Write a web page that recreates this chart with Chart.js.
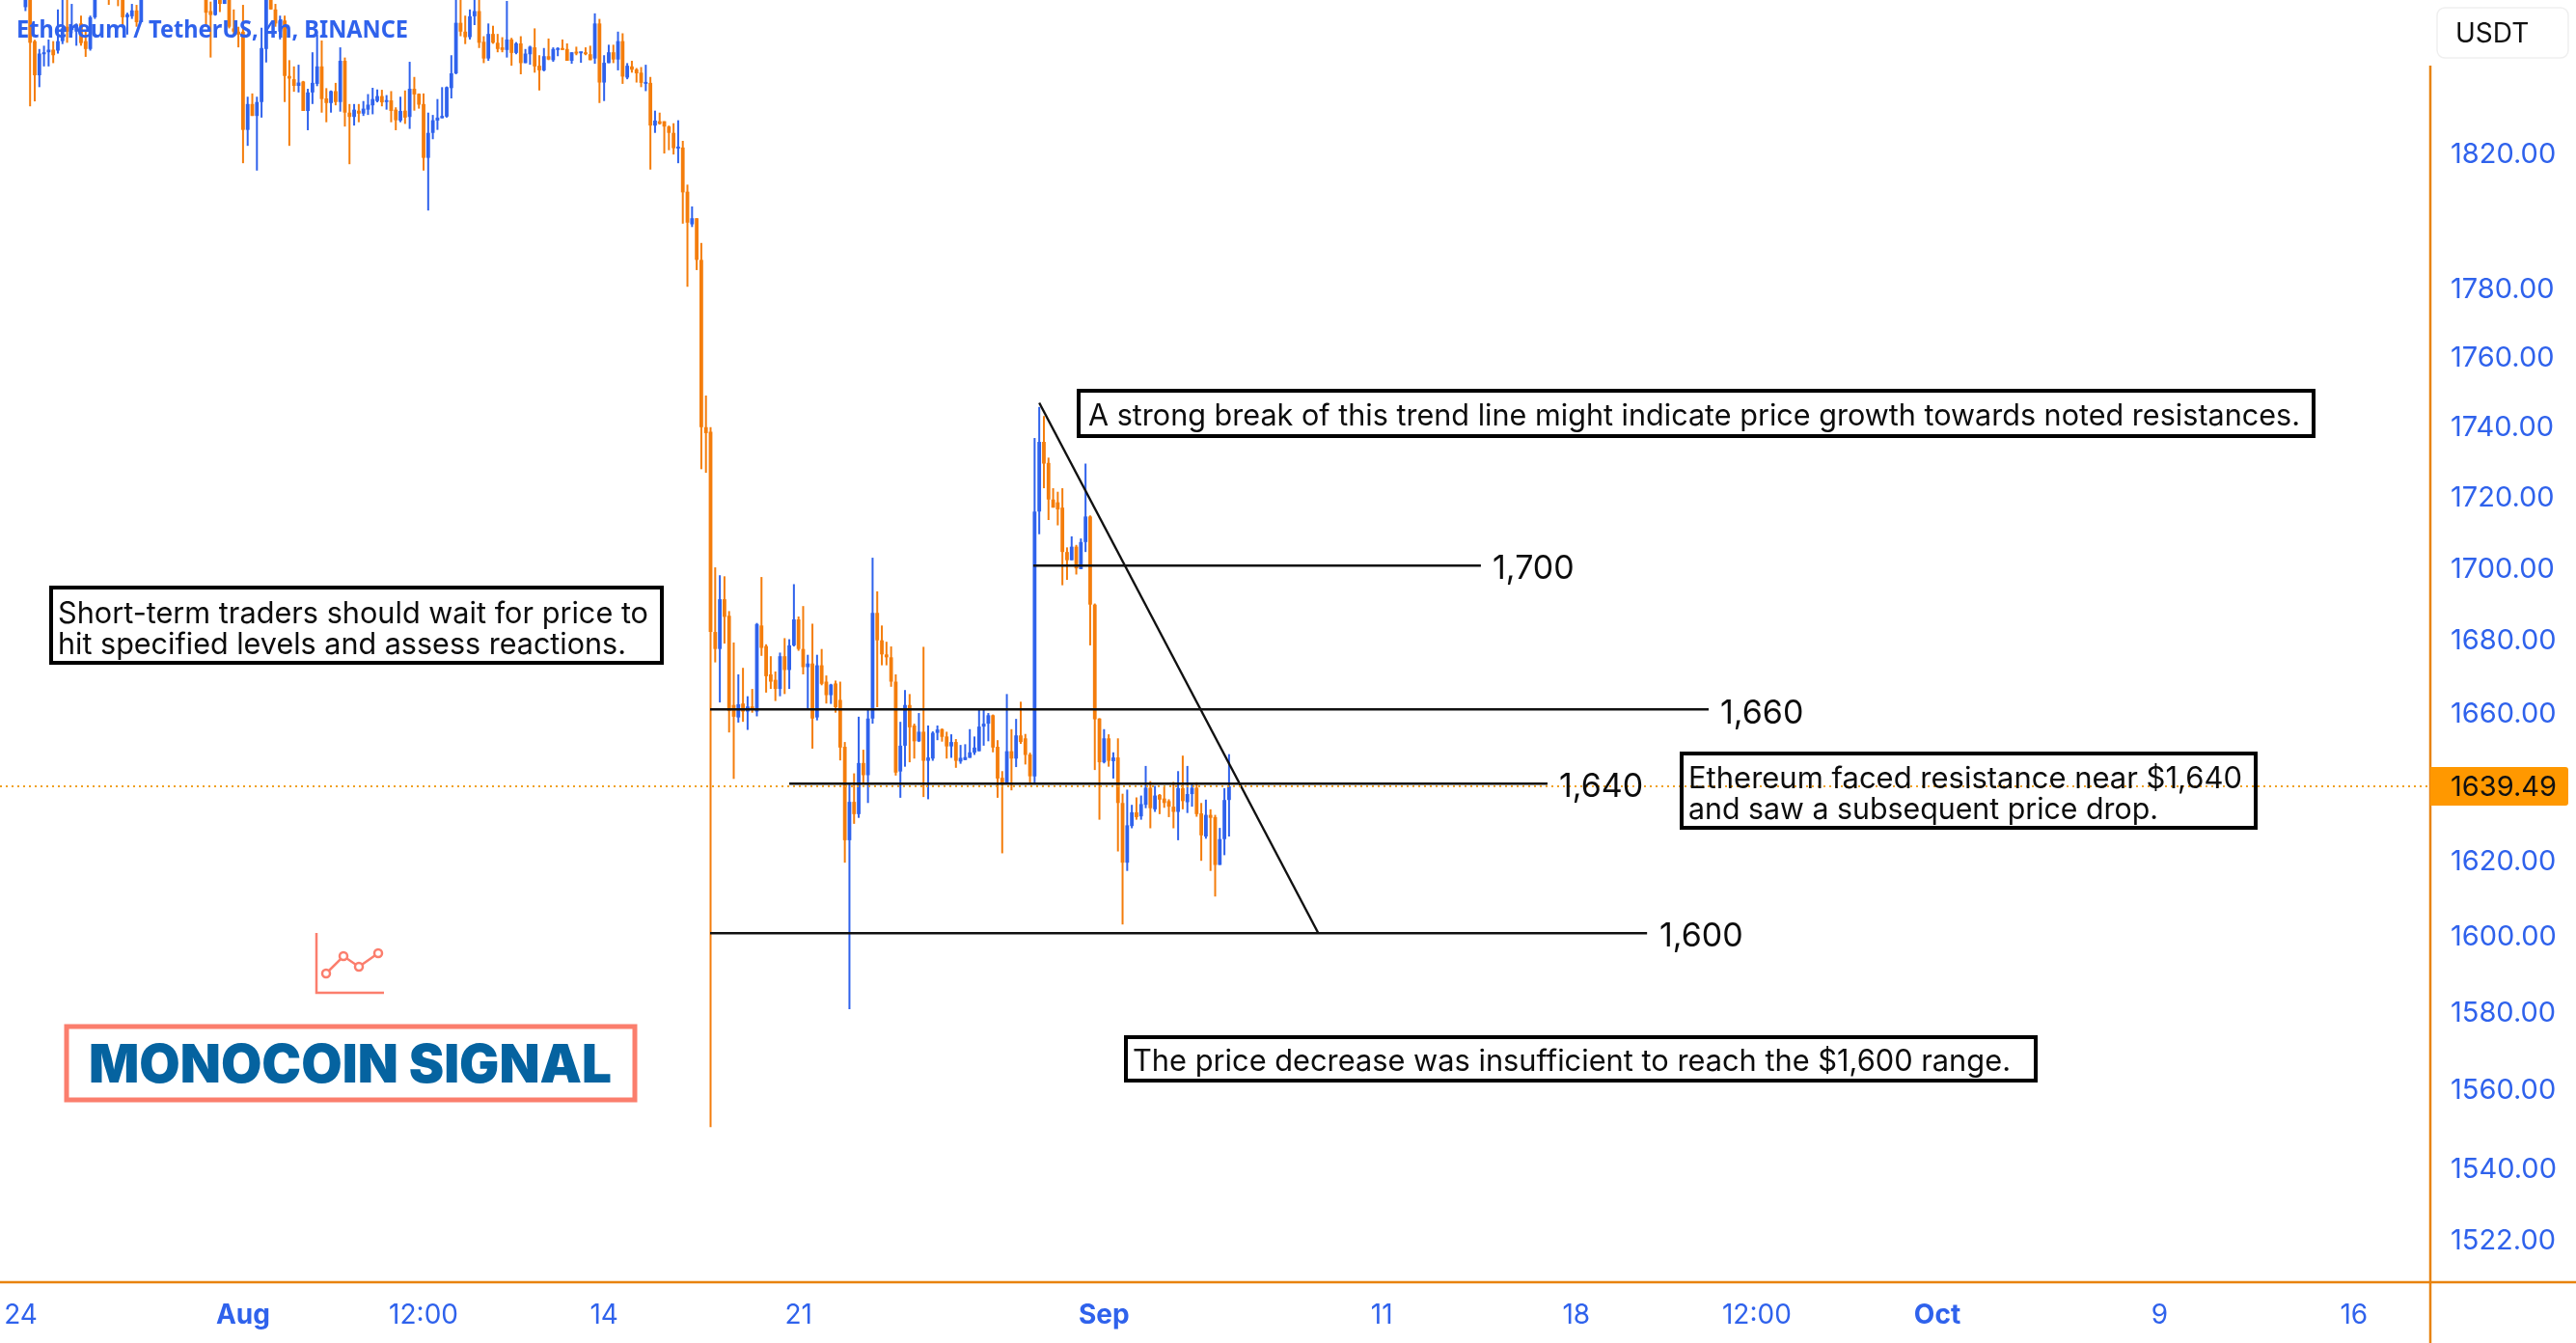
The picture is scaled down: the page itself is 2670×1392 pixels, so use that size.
<!DOCTYPE html>
<html>
<head>
<meta charset="utf-8">
<title>Ethereum / TetherUS, 4h, BINANCE</title>
<script src="https://cdn.jsdelivr.net/npm/chart.js"></script>
<style>
    html, body { margin: 0; padding: 0; background: #fff; overflow: hidden; }
    canvas { display: block; }
</style>
</head>
<body>
<canvas id="priceChart" width="2670" height="1392" style="width:2670px;height:1392px"></canvas>
<script>
// 4h candles. The first index is 23 Jul 08:00
const opens = [
    1884,1880,1876,1881,1878,1864,1870,1853.6,1843.2,1849.6,
    1850.2,1851,1850.7,1853.6,1858,1857,1856.5,1859,1853.6,1851.2,
    1860.9,1872,1878,1874,1868,1871,1868,1860.9,1861.2,1863,
    1859.4,1868,1878,1883,1888,1886,1881,1885,1882,1876,
    1880,1878,1873,1876,1870,1862.8,1861.6,1868,1865,1868,
    1857.5,1856.5,1856.5,1826.7,1834.5,1830.9,1835.1,1851.2,1869,1863.3,
    1856.5,1859.9,1843,1842,1840,1841.3,1832.4,1838,1840.6,1845.9,
    1836.2,1834.8,1838.4,1835.1,1847.6,1831.9,1830.6,1832.5,1831.6,1832.8,
    1834.1,1835.4,1836.9,1835.1,1835.6,1832.8,1829.5,1832.5,1830.6,1839.1,
    1837.6,1834.5,1818.3,1825.8,1829.5,1830.2,1830.7,1839.3,1843.8,1859.2,
    1856.5,1854.8,1861.2,1862.8,1853.4,1848.3,1855.8,1853.1,1851.7,1850.9,
    1854.1,1850,1852.9,1846.9,1849.6,1851.7,1846.1,1844.7,1849,1847.8,
    1850.9,1851.2,1851.2,1847.6,1850.2,1849.9,1850.2,1849.6,1848.3,1859,
    1841,1846.9,1850.2,1848,1853.6,1842.5,1845.9,1845,1844,1840.6,
    1840.9,1828,1829.3,1829.3,1827.7,1825.8,1821.1,1821.4,1808.2,1798.5,
    1800.3,1788,1739.4,1738.1,1681.7,1677,1690.8,1686.2,1661.6,1658.2,
    1662,1659.8,1661.2,1659.8,1683.5,1677.8,1670,1668.5,1666,1675,
    1671.2,1678,1685.2,1677,1672,1673,1658.2,1672.5,1668,1664.3,
    1667.5,1663,1650.2,1625,1635.3,1632,1645.8,1642.5,1657.9,1687,
    1679.4,1675.5,1674.7,1668,1643.5,1650.5,1661.6,1656,1651.7,1654.3,
    1646.4,1647,1654,1655,1653,1650.3,1651.5,1646.2,1646.6,1647.2,
    1648.6,1649,1655.7,1656.5,1658.8,1650.2,1641.8,1640.3,1649,1647,
    1653.3,1652.5,1648.1,1642.2,1715.4,1735.2,1729.2,1718.8,1718,1716.5,
    1704,1701.7,1705.5,1699.2,1706.8,1714,1689.3,1657.9,1646,1652.5,
    1646.3,1647.3,1635,1619,1628.8,1632.5,1631.4,1634.5,1639.1,1633.3,
    1637.2,1636.2,1635.5,1634,1632.6,1639,1635.2,1637.4,1639.1,1632.2,
    1626,1631.8,1631.2,1618.4,1625.3,1635.8
];
const closes = [
    1880,1876,1881,1878,1872,1870,1853.1,1843.2,1849.8,1850.2,
    1851,1849.3,1853.6,1857.5,1856.5,1858,1858.7,1853,1851.2,1860.9,
    1870,1878,1874,1868,1871,1868,1860.9,1861.8,1863,1859.4,
    1868,1878,1883,1888,1886,1881,1885,1882,1876,1880,
    1878,1873,1876,1870,1862.3,1861.6,1868,1865,1868,1858,
    1856.5,1855.6,1826.7,1834.5,1830.9,1835.1,1851.5,1870,1863.3,1859,
    1859.9,1843,1842.2,1840,1841,1832.4,1838,1840.9,1845.9,1836,
    1834.8,1838.4,1835.1,1847.6,1831.9,1830.6,1832.8,1831.6,1833.1,1834.3,
    1836,1836.9,1835,1835.6,1832.4,1829.6,1832.4,1830.4,1839.1,1837.4,
    1834.3,1818.3,1825.8,1829.6,1830.4,1830.9,1839.6,1843.8,1859.2,1856.5,
    1854.8,1861.2,1862.8,1853.1,1848.3,1855.8,1853.1,1851.2,1850.9,1854.1,
    1850,1852.9,1846.9,1849.8,1851.9,1845.9,1844.7,1849,1848,1851.2,
    1851.5,1850.9,1847.6,1850.2,1849.8,1850.2,1849.6,1847.8,1859,1841,
    1847,1850.2,1848,1853.6,1842.8,1846.1,1844.9,1843.8,1840.9,1840.9,
    1828,1829.5,1828.5,1827.7,1825.8,1821.2,1821.4,1808,1799,1800.3,
    1788,1739.4,1737.7,1681.7,1677,1690.8,1685.9,1660,1658.4,1661.8,
    1659.8,1661.2,1660.2,1683.9,1677.3,1669.5,1668,1666,1675,1671.2,
    1678,1685.2,1677,1672,1673,1657.9,1672.5,1667.4,1664.3,1667.2,
    1661,1650,1625,1635.3,1632,1645.8,1642.5,1657.9,1687,1679.4,
    1675.5,1674.7,1668,1643.2,1650.5,1661.6,1655.5,1651.7,1654.3,1646.4,
    1647.3,1654,1654.9,1652.9,1650.3,1651.5,1646.4,1647.2,1647.4,1648.7,
    1650,1655.7,1656.5,1658.8,1650,1641.6,1640.5,1649,1647,1653.3,
    1651.5,1648,1642.2,1715.4,1735.2,1729,1718.8,1716.5,1716,1704,
    1701.7,1705.5,1699.4,1706.8,1714,1689.3,1657.7,1646,1652.5,1646.4,
    1647.3,1635,1619,1629,1632.5,1631.2,1634.7,1639.1,1633.6,1637,
    1635.9,1635,1634,1632.6,1639,1635.5,1637.4,1639.1,1632,1626.3,
    1631.8,1631,1618.4,1625.3,1635.8,1639.49
];
const highs = [
    1890,1886,1884,1889,1882,1875,1872,1854,1851.2,1852.2,
    1854.1,1853.6,1863.3,1870,1868,1865,1859,1861.4,1856.5,1861.4,
    1875,1882,1884,1878,1876,1875,1870,1862.3,1865,1864.7,
    1870,1880,1886,1892,1896,1890,1888,1891,1886,1884,
    1887,1882,1880,1878,1872,1865.7,1872,1870,1872,1870,
    1863.3,1858,1864.7,1836.7,1837.7,1836.7,1857.7,1875,1870,1865,
    1861.4,1861.4,1847.8,1845.9,1846.4,1841.5,1839.1,1850.2,1855.6,1853.8,
    1839.3,1838.6,1840.9,1851.7,1848.6,1834.5,1834.5,1834.5,1835.4,1837.5,
    1839.4,1838.9,1838.8,1837.2,1838.4,1833.5,1836.7,1838.6,1847.3,1842.7,
    1837.7,1837.7,1831.9,1831.2,1836,1839.6,1839.8,1849.3,1870,1870,
    1861.4,1863.3,1868,1868,1855.1,1859,1858.3,1855.8,1854.8,1865.9,
    1854.6,1853.3,1855.1,1851.2,1852.2,1857.5,1849.3,1851.5,1854.4,1851.7,
    1851.7,1854.1,1852.9,1850.2,1851.9,1850.3,1851.7,1852.2,1862.1,1860.4,
    1849.3,1852.5,1852.5,1856.5,1856,1846.9,1847.6,1845.4,1845.7,1846.4,
    1842.7,1832.5,1831.9,1829.3,1828,1828.7,1829.6,1823.4,1810.3,1803.8,
    1800.3,1793,1748.5,1739.4,1699.7,1697.5,1697.2,1687.5,1678.8,1670,
    1671.8,1664,1666,1684.2,1697,1678.3,1675,1670.8,1676,1680,
    1679.7,1695,1686,1688.9,1675.4,1684,1675.4,1677,1669.7,1667.4,
    1668.3,1668,1651.5,1640,1643,1658.4,1649.4,1660.2,1702.4,1693,
    1683.5,1679,1677.7,1670,1657,1665.7,1664.6,1656.5,1659.4,1677.6,
    1656,1654.4,1656,1655.2,1654.3,1653.6,1652.3,1650.7,1650.9,1655,
    1653,1660.5,1660.4,1659.4,1659,1652,1643.6,1664.6,1655,1657.8,
    1662.5,1653.7,1648.6,1736.3,1745.2,1742.6,1730.7,1722,1721,1722,
    1705.3,1708.4,1706,1707.8,1729,1714.3,1689.6,1658,1655,1653.6,
    1648.7,1652.5,1637.5,1638.6,1634.5,1636.5,1637,1645,1640.9,1639.6,
    1637.4,1639.6,1636,1640.7,1643.6,1647.8,1645,1640.4,1640.6,1635,
    1635.9,1633.3,1631.8,1628.3,1639,1648.2
];
const lows = [
    1878,1874,1872,1876,1870,1862.8,1833.8,1835.3,1839.6,1845.9,
    1845.9,1846.9,1849.8,1852.7,1853.1,1856,1852.2,1852.2,1848.8,1850.7,
    1860.4,1868,1870,1864.7,1867,1864.3,1858,1855.6,1860.4,1858,
    1859.4,1867,1874,1880,1884,1878,1876,1880,1874,1872,
    1876,1870,1869,1868,1858,1848.6,1861.4,1862.5,1865,1857.5,
    1855.6,1851.7,1816.7,1821.9,1830.9,1814.5,1830.4,1847.1,1863.3,1858,
    1854.1,1835.1,1821.9,1838.2,1838,1832.4,1826.6,1834.5,1839.9,1831.9,
    1829,1831.9,1834.1,1832.2,1827.7,1816.4,1828,1829,1830.9,1831.2,
    1831.4,1835,1833.8,1832.8,1829,1826.6,1829,1828.5,1827,1832.5,
    1833.1,1814.5,1802.6,1823.9,1826.7,1830.2,1830.4,1836.2,1843.5,1855.1,
    1852.7,1854.1,1858.5,1851.5,1846.9,1847.6,1852.8,1850.2,1850.2,1848.6,
    1846.1,1849.6,1843.5,1846.9,1846.4,1844,1838.6,1844.4,1847.8,1847.3,
    1849,1850.9,1847.6,1846.7,1849.3,1847,1849.3,1847.8,1846.7,1834.8,
    1835.4,1846.9,1846.9,1844.7,1840.6,1842,1844,1841,1839.6,1838.4,
    1814.8,1825.8,1828.3,1819.6,1820.6,1819.3,1816.7,1798.7,1780.1,1797.7,
    1785,1727.4,1726.4,1550,1673.3,1662.3,1678.5,1654.1,1641.5,1656.8,
    1657,1654.8,1659.5,1658.5,1675.1,1665,1666,1662.7,1664,1664.6,
    1666,1677.7,1676.5,1670,1660.7,1649.7,1657.4,1667,1662,1661.9,
    1659.5,1646.5,1619,1580.4,1629.4,1631,1640.3,1635,1656.5,1661,
    1672.5,1672.5,1666.6,1642.4,1636.4,1644.8,1646,1647,1651.5,1636.6,
    1636,1646.4,1652,1651.6,1647,1647.2,1644.5,1645.6,1646.6,1647.2,
    1648,1649,1650.5,1651.7,1648.7,1636.4,1621.5,1640,1638.4,1644.7,
    1651,1645.4,1640,1640.4,1709,1722,1713,1716.5,1711.5,1694.7,
    1696.2,1701.7,1697.7,1699.2,1704,1678,1643.9,1630.5,1645.7,1644.8,
    1641.6,1622,1602.6,1616.8,1628.2,1630.5,1630.5,1633.6,1628.2,1632.6,
    1632,1633.7,1631.2,1628.2,1625,1633.3,1632.3,1634,1631.3,1619.5,
    1625.4,1616.8,1610,1618.4,1621,1626
];

// Drawn levels and the trend line, in candle index and price
const levelPrices = [1700.2, 1660.4, 1640.2, 1600.3];
const levelStarts = [222.7, 152.9, 170, 152.9];
const levelEnds = [319.4, 368.6, 333.8, 355.3];
const trendX = [224, 284.2];
const trendY = [1746.4, 1600.5];
const lastPrice = 1639.49;

// Axes
const priceTicks = [1820, 1780, 1760, 1740, 1720, 1700, 1680, 1660, 1620, 1600, 1580, 1560, 1540, 1522];
const timeTicks = [4, 52, 91, 130, 172, 238, 298, 340, 379, 418, 466, 508];
const timeLabels = ['24', 'Aug', '12:00', '14', '21', 'Sep', '11', '18', '12:00', 'Oct', '9', '16'];
const monthLabels = ['Aug', 'Sep', 'Oct'];

const BLUE = '#2f62ec';
const ORANGE = '#f47d0c';
const AXIS = '#e8830f';
const CORAL = '#fb7e6d';
const TEXT_FONT = 'Inter, "Liberation Sans", sans-serif';

const candleColors = closes.map((c, i) => c >= opens[i] ? BLUE : ORANGE);

// Text boxes placed on top of the chart
const noteBoxes = [
    { rect: [1118, 405, 1280, 47], lines: ['A strong break of this trend line might indicate price growth towards noted resistances.'], x: 1128, y: [432], width: [1256] },
    { rect: [53, 609, 633, 78], lines: ['Short-term traders should wait for price to', 'hit specified levels and assess reactions.'], x: 60, y: [637, 669], width: [612, 589] },
    { rect: [1743, 781, 595, 77], lines: ['Ethereum faced resistance near $1,640', 'and saw a subsequent price drop.'], x: 1750, y: [808, 840], width: [574, 487] },
    { rect: [1167, 1075, 943, 45], lines: ['The price decrease was insufficient to reach the $1,600 range.'], x: 1174, y: [1101], width: [910] }
];
const levelNotes = [
    { text: '1,700', x: 1547, y: 590 },
    { text: '1,660', x: 1783, y: 740 },
    { text: '1,640', x: 1616, y: 816 },
    { text: '1,600', x: 1720, y: 971 }
];

function drawNotes(ctx) {
    ctx.textBaseline = 'middle';
    ctx.textAlign = 'left';
    ctx.fillStyle = '#0c0c0c';
    ctx.font = '31px ' + TEXT_FONT;
    noteBoxes.forEach(box => {
        ctx.lineWidth = 4;
        ctx.strokeStyle = '#000';
        ctx.strokeRect(box.rect[0], box.rect[1], box.rect[2], box.rect[3]);
        box.lines.forEach((line, i) => ctx.fillText(line, box.x, box.y[i], box.width[i]));
    });
    ctx.font = '34px ' + TEXT_FONT;
    levelNotes.forEach(n => ctx.fillText(n.text, n.x, n.y));
}

function drawLogo(ctx) {
    // Little chart icon
    ctx.strokeStyle = CORAL;
    ctx.lineWidth = 2.5;
    ctx.beginPath();
    ctx.moveTo(328, 967);
    ctx.lineTo(328, 1029);
    ctx.lineTo(398, 1029);
    ctx.stroke();
    const dots = [[338, 1009], [356, 991], [372, 1002], [392, 988]];
    ctx.beginPath();
    dots.forEach((d, i) => i ? ctx.lineTo(d[0], d[1]) : ctx.moveTo(d[0], d[1]));
    ctx.stroke();
    dots.forEach(d => {
        ctx.beginPath();
        ctx.arc(d[0], d[1], 4, 0, Math.PI * 2);
        ctx.fillStyle = '#fff';
        ctx.fill();
        ctx.stroke();
    });

    // Framed name
    ctx.lineWidth = 5;
    ctx.strokeRect(69, 1064, 589, 76);
    ctx.fillStyle = '#0563a0';
    ctx.font = '900 55px Inter, Lato, sans-serif';
    ctx.textAlign = 'left';
    ctx.textBaseline = 'alphabetic';
    ctx.fillText('MONOCOIN SIGNAL', 92, 1122, 542);
}

// Everything that is not a candle or a line: axis rules, title, notes, tags
const overlayPlugin = {
    id: 'overlay',
    afterDraw(chart) {
        const ctx = chart.ctx;
        const area = chart.chartArea;
        ctx.save();

        ctx.strokeStyle = AXIS;
        ctx.lineWidth = 2.5;
        ctx.beginPath();
        ctx.moveTo(0, area.bottom);
        ctx.lineTo(chart.width, area.bottom);
        ctx.moveTo(area.right, 68);
        ctx.lineTo(area.right, chart.height);
        ctx.stroke();

        ctx.textBaseline = 'middle';
        ctx.textAlign = 'left';
        ctx.fillStyle = BLUE;
        ctx.font = 'bold 25px "Noto Sans", sans-serif';
        ctx.fillText('Ethereum / TetherUS, 4h, BINANCE', 17, 32, 406);

        drawNotes(ctx);
        drawLogo(ctx);

        // Unit button
        ctx.beginPath();
        ctx.roundRect(2526, 8, 136, 52, 8);
        ctx.lineWidth = 1.5;
        ctx.strokeStyle = '#efefef';
        ctx.stroke();
        ctx.fillStyle = '#111';
        ctx.font = '28px ' + TEXT_FONT;
        ctx.textBaseline = 'middle';
        ctx.textAlign = 'left';
        ctx.fillText('USDT', 2545, 36);

        // Last price tag
        const tagY = chart.scales.y.getPixelForValue(lastPrice);
        ctx.beginPath();
        ctx.roundRect(area.right, tagY - 20, 143, 40, [0, 3, 3, 0]);
        ctx.fillStyle = '#ff9800';
        ctx.fill();
        ctx.fillStyle = '#111';
        ctx.font = '29px ' + TEXT_FONT;
        ctx.fillText(lastPrice.toFixed(2), 2540, tagY + 1);

        ctx.restore();
    }
};

// The axes must not push the plot area in for their outer labels
function noAxisPadding(scale) {
    scale.paddingLeft = 0;
    scale.paddingRight = 0;
    scale.paddingTop = 0;
    scale.paddingBottom = 0;
}

function initChart() {
    const ctx = document.getElementById('priceChart').getContext('2d');
    const index = opens.map((o, i) => i);

    const levelSets = levelPrices.map((price, i) => ({
        type: 'line',
        data: [{ x: levelStarts[i], y: price }, { x: levelEnds[i], y: price }],
        borderColor: '#111',
        borderWidth: 2.4,
        pointRadius: 0,
        order: 0
    }));

    new Chart(ctx, {
        type: 'bar',
        data: {
            datasets: [
                {
                    label: 'Wicks',
                    data: index.map(i => ({ x: i, y: [lows[i], highs[i]] })),
                    backgroundColor: candleColors,
                    barThickness: 2,
                    inflateAmount: 0,
                    order: 3
                },
                {
                    label: 'Bodies',
                    data: index.map(i => ({ x: i, y: [opens[i], closes[i]] })),
                    backgroundColor: candleColors,
                    barThickness: 3.8,
                    minBarLength: 2,
                    inflateAmount: 0,
                    order: 2
                },
                ...levelSets,
                {
                    type: 'line',
                    label: 'Trend',
                    data: trendX.map((x, i) => ({ x: x, y: trendY[i] })),
                    borderColor: '#111',
                    borderWidth: 2.4,
                    pointRadius: 0,
                    order: 0
                },
                {
                    type: 'line',
                    label: 'Last price',
                    data: [{ x: -0.5, y: lastPrice }, { x: 524.5, y: lastPrice }],
                    borderColor: '#f0a020',
                    borderWidth: 2,
                    borderDash: [2, 4],
                    pointRadius: 0,
                    order: -1
                }
            ]
        },
        options: {
            responsive: false,
            animation: false,
            layout: { padding: 0 },
            datasets: { bar: { grouped: false } },
            plugins: {
                legend: { display: false },
                title: { display: false },
                tooltip: { enabled: false }
            },
            scales: {
                x: {
                    type: 'linear',
                    offset: false,
                    min: -0.5,
                    max: 524.5,
                    grid: { display: false, drawTicks: false },
                    border: { display: false },
                    afterBuildTicks: scale => {
                        scale.ticks = timeTicks.map(v => ({ value: v }));
                    },
                    afterFit: scale => {
                        scale.height = 63;
                        noAxisPadding(scale);
                    },
                    ticks: {
                        autoSkip: false,
                        maxRotation: 0,
                        padding: 18,
                        color: BLUE,
                        font: c => ({
                            family: TEXT_FONT,
                            size: 28,
                            weight: c.tick && monthLabels.includes(c.tick.label) ? 'bold' : 'normal'
                        }),
                        callback: value => timeLabels[timeTicks.indexOf(value)]
                    }
                },
                y: {
                    type: 'logarithmic',
                    position: 'right',
                    min: 1510.9,
                    max: 1866.2,
                    grid: { display: false, drawTicks: false },
                    border: { display: false },
                    afterBuildTicks: scale => {
                        scale.ticks = priceTicks.map(v => ({ value: v }));
                    },
                    afterFit: scale => {
                        scale.width = 151;
                        noAxisPadding(scale);
                    },
                    ticks: {
                        autoSkip: false,
                        padding: 21,
                        labelOffset: 3,
                        color: BLUE,
                        font: { family: TEXT_FONT, size: 29 },
                        callback: value => value.toFixed(2)
                    }
                }
            }
        },
        plugins: [overlayPlugin]
    });
}

initChart();
</script>
</body>
</html>
